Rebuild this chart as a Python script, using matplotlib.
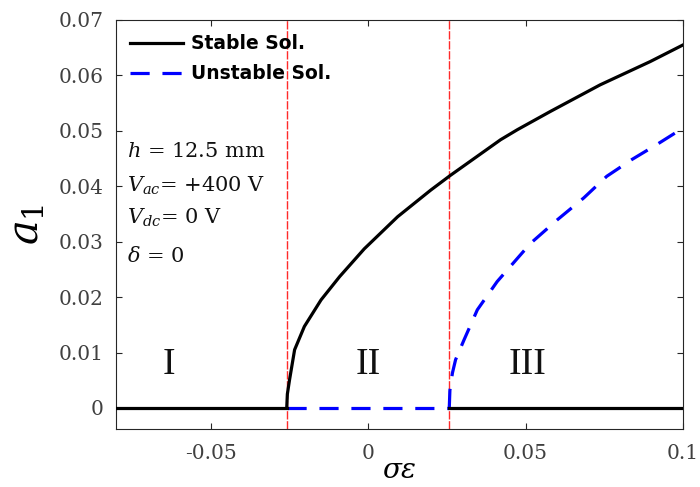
import matplotlib
matplotlib.use('Agg')
import matplotlib.pyplot as plt

plt.rcParams['axes.unicode_minus'] = False
plt.rcParams['mathtext.fontset'] = 'dejavuserif'

# bifurcation points (red dashed boundaries)
x_bif = [-0.0258, 0.0258]

# stable solution: trivial branch (left), nontrivial branch, trivial branch (right)
stable_zero_left_x = [-0.08, -0.0258]
stable_zero_left_y = [0, 0]
stable_x = [-0.0258, -0.0256, -0.0249, -0.0233, -0.0202, -0.0149, -0.0090, -0.0012,
            0.0094, 0.0199, 0.0260, 0.0421, 0.0474, 0.0579, 0.0737, 0.0896, 0.1]
stable_y = [0, 0.0025, 0.0051, 0.0105, 0.0147, 0.0195, 0.0237, 0.0287,
            0.0345, 0.0393, 0.0419, 0.0484, 0.0502, 0.0535, 0.0583, 0.0625, 0.0655]
stable_zero_right_x = [0.0258, 0.1]
stable_zero_right_y = [0, 0]

# unstable solution: trivial branch in region II, nontrivial branch in region III
unstable_zero_x = [-0.0258, 0.0258]
unstable_zero_y = [0, 0]
unstable_x = [0.0258, 0.0260, 0.0268, 0.0278, 0.0305, 0.0347, 0.0410, 0.0479,
              0.0516, 0.0600, 0.0685, 0.0758, 0.0837, 0.0916, 0.1]
unstable_y = [0, 0.0032, 0.0063, 0.0087, 0.0123, 0.0177, 0.0228, 0.0273,
              0.0297, 0.0339, 0.0379, 0.0418, 0.0448, 0.0475, 0.0505]

region_labels = ['I', 'II', 'III']
region_x = [-0.0633, 0.0, 0.0506]
region_y = 0.0078

params = [r'$h$ = 12.5 mm', r'$V_{ac}$= +400 V', r'$V_{dc}$= 0 V', r'$\delta$ = 0']
params_y = [0.0462, 0.0400, 0.0343, 0.0275]

fig = plt.figure(figsize=(7, 4.87), dpi=100)
ax = fig.add_axes([116/700, 1 - 429/487, 567/700, 409/487])

for xb in x_bif:
    ax.axvline(xb, color='#ff2a2a', lw=1.0, dashes=(6, 1.2), zorder=1)

blue_ls = (0, (6, 4))
ax.plot(unstable_zero_x, unstable_zero_y, color='#0000ff', lw=2.3, ls=blue_ls, zorder=2)
ax.plot(unstable_x, unstable_y, color='#0000ff', lw=2.3, ls=blue_ls, zorder=2,
        label='Unstable Sol.')
ax.plot(stable_zero_left_x, stable_zero_left_y, color='black', lw=2.3, zorder=3)
ax.plot(stable_x, stable_y, color='black', lw=2.3, zorder=3, label='Stable Sol.')
ax.plot(stable_zero_right_x, stable_zero_right_y, color='black', lw=2.3, zorder=3)

for lab, xr in zip(region_labels, region_x):
    ax.text(xr, region_y, lab, ha='center', va='center', fontsize=27,
            family='Liberation Serif', color='#111111')

for txt, yp in zip(params, params_y):
    ax.text(-0.0765, yp, txt, ha='left', va='center', fontsize=15,
            family='DejaVu Serif', color='#111111')

ax.set_xlim(-0.08, 0.1)
ax.set_ylim(-0.0038, 0.07)
ax.set_xticks([-0.05, 0, 0.05, 0.1])
ax.set_xticklabels(['-0.05', '0', '0.05', '0.1'])
ax.set_yticks([0, 0.01, 0.02, 0.03, 0.04, 0.05, 0.06, 0.07])
ax.set_yticklabels(['0', '0.01', '0.02', '0.03', '0.04', '0.05', '0.06', '0.07'])

ax.tick_params(direction='in', top=True, right=True, length=4, width=0.8,
               colors='#262626', labelsize=14.5)
ax.tick_params(axis='x', pad=11)
ax.tick_params(axis='y', pad=9)
for lbl in ax.get_xticklabels() + ax.get_yticklabels():
    lbl.set_family('DejaVu Serif')
    lbl.set_color('#404040')
for sp in ax.spines.values():
    sp.set_color('#262626')
    sp.set_linewidth(0.8)

ax.set_xlabel(r'$\sigma\varepsilon$', fontsize=20, labelpad=-5)
ax.set_ylabel(r'$a_1$', fontsize=30, labelpad=8)

handles, labels = ax.get_legend_handles_labels()
ax.legend(handles[::-1], labels[::-1], loc='upper left', frameon=False,
          prop={'weight': 'bold', 'size': 13.5}, handlelength=2.8,
          handletextpad=0.45, borderaxespad=0.35, labelspacing=0.6)

fig.savefig('out.png', dpi=100)
